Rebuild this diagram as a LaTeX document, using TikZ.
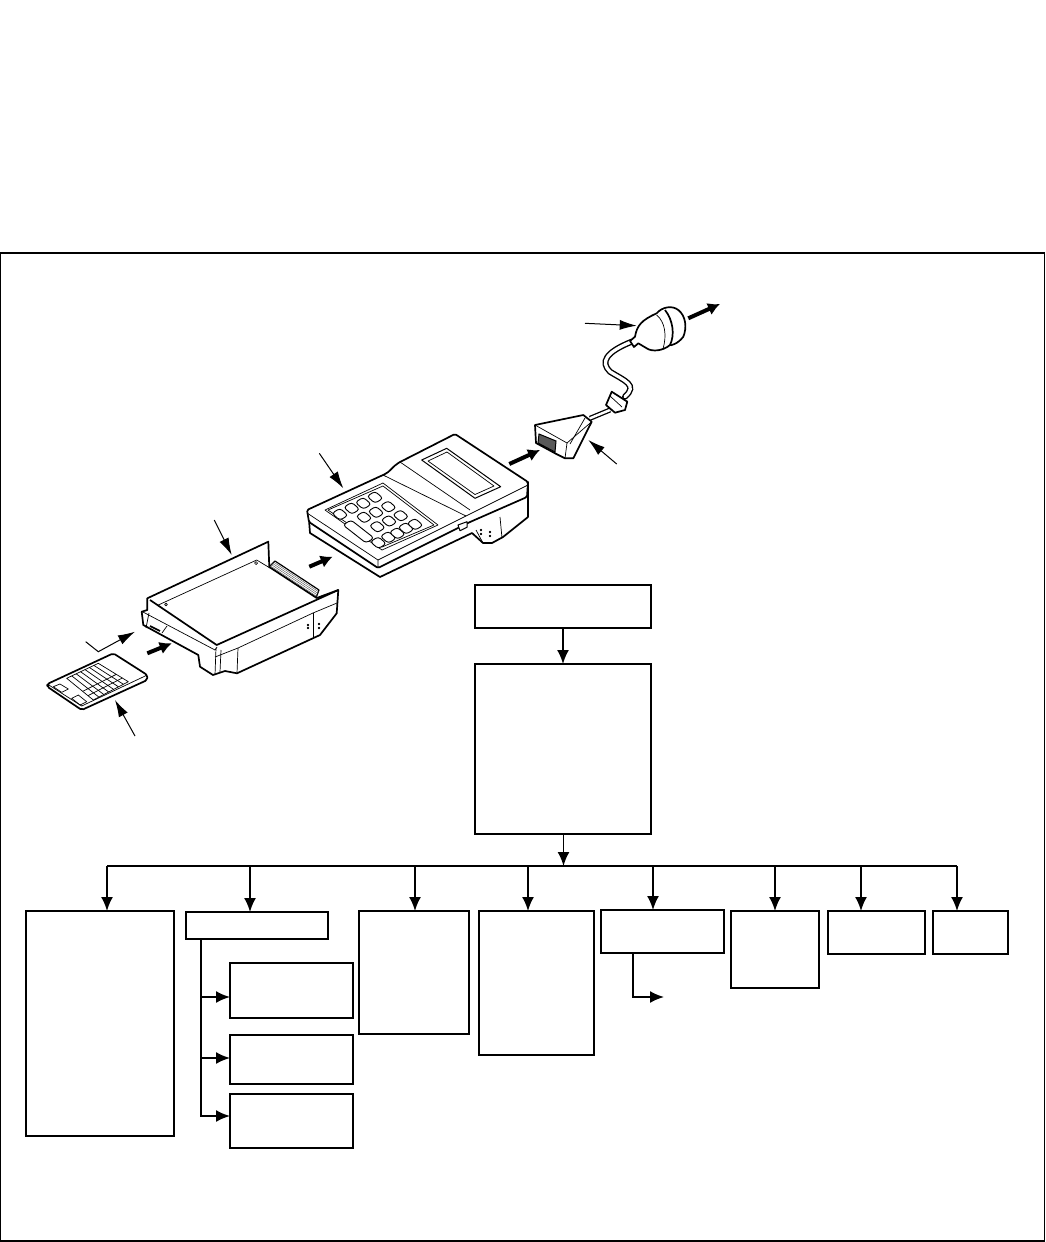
\documentclass[tikz,border=0pt]{standalone}
\usepackage{tikz}
\usetikzlibrary{positioning,calc,arrows.meta}
\begin{document}
\begin{tikzpicture}[x=1pt,y=-1pt,
  flowbox/.style={rectangle,draw=black,line width=2pt,fill=white,inner sep=0pt,outer sep=0pt},
  flowline/.style={draw=black,line width=1.8pt},
  flowarrow/.style={draw=black,line width=1.8pt,-{Latex[length=14pt,width=12pt]}},
  leader/.style={draw=black,line width=1pt,-{Latex[length=17pt,width=10pt]}},
  pusharrow/.style={draw=black,line width=4pt,-{Latex[length=12pt,width=13pt]}},
  heavy/.style={draw=black,line width=1.7pt,line join=round,fill=white},
  heavyline/.style={draw=black,line width=1.7pt,line join=round},
  fine/.style={draw=black,line width=0.7pt,line join=round},
  keycap/.style={draw=black,line width=0.9pt,fill=white,rounded corners=3pt}
]
\useasboundingbox (0,0) rectangle (1046,1242);
\node[flowbox,line width=1.6pt,minimum width=1044pt,minimum height=988pt] (frame) at (522.5,747) {};
% card
\draw[heavy,rounded corners=2pt] (47.3,684) -- (113.3,653.3) -- (147.3,675) -- (147.3,680) -- (81.7,710) -- (47.3,686.7) -- cycle;
\draw[fine] (47.3,684) -- (81.7,706) -- (147.3,675);
\draw[fine] (66.7,678.3) -- (98.3,663.3) -- (128.3,681.7) -- (93.3,700) -- cycle;
\foreach \t in {0.14,0.28,0.42,0.56,0.7,0.84}
  \draw[fine] ($(98.3,663.3)!\t!(66.7,678.3)$) -- ($(128.3,681.7)!\t!(93.3,700)$);
\foreach \t in {0.6,0.8}
  \draw[fine] ($(66.7,678.3)!\t!(93.3,700)$) -- ($(98.3,663.3)!\t!(128.3,681.7)$);
\draw[fine] (53.3,686.7) -- (60,684) -- (68.3,689) -- (61.7,692.3) -- cycle;
\draw[fine] (71.7,698.3) -- (78.3,695) -- (86.7,701.7) -- (80,705) -- cycle;
% cartridge
\draw[heavy,line width=1.2pt] (269,567) -- (275,561) -- (319,590) -- (316,598) -- cycle;
\foreach \t in {0.2,0.4,0.6,0.8}
  \draw[draw=black!70,line width=0.4pt] ($(269,567)!\t!(275,561)$) -- ($(316,598)!\t!(319,590)$);
\draw[heavy] (147.3,598.3) -- (268.3,541.7) -- (269.3,567) -- (316.7,598) -- (338.3,590) -- (336.7,613.3) -- (320,635) -- (237,673.3) -- (225,671) -- (213,675) -- (200,666.7) -- (198.3,655) -- (143.3,625) -- (141.7,611.7) -- (147.3,610) -- cycle;
\draw[heavyline] (150,600) -- (216.7,645) -- (338.3,590);
\draw[fine] (143,612) -- (215,650) -- (217,647);
\draw[fine] (215,657) -- (238,648) -- (313,613) -- (337,603);
\draw[fine] (216,648) -- (215,675);
\draw[fine] (221,650) -- (220,672);
\draw[fine] (238,648) -- (237,673.3);
\draw[fine] (313,613) -- (313,637);
\draw[fine] (158.3,605) -- (256.7,560);
\draw[fine] (256.7,560) -- (270,568);
\draw[fine] (149,613) -- (146,628);
\draw[heavyline] (150,626) -- (160,631);
\draw[fine] (167,626) -- (162,633);
\draw[fine] (166,604.5) circle (1.3);
\draw[fine] (256,563) circle (1.5);
\draw[fine] (308,625) circle (0.8) (308,628) circle (0.8) (319,624) circle (0.8) (319,628) circle (0.8);
% keypad
\draw[heavy] (309,520) -- (310,533) -- (380,577) -- (472,533) -- (483,543) -- (492,543) -- (503,537) -- (528,517) -- (528,482) -- cycle;
\draw[heavy,rounded corners=1.5pt] (307,510) -- (383,475) .. controls (390,472) and (393,466) .. (400,462) -- (455,434) -- (528,482) -- (527,497) -- (470,522) -- (378,568) -- (309,522) -- cycle;
\draw[fine] (307,513) -- (378,560) -- (378,568);
\draw[fine] (378,560) -- (466,516) -- (528,485);
\draw[fine] (383,475) -- (466,516);
\draw[fine] (400,462) -- (470,510);
\draw[fine] (500,517) -- (502,538);
\draw[fine] (476,530) -- (483,543);
\draw[fine] (325,510) -- (383,483) -- (438,525) -- (382,550) -- cycle;
\draw[fine] (328,510) -- (383,486) -- (434,525) -- (382,547) -- cycle;
\foreach \kx/\ky in {340/514.3,351.7/508.3,363.3/503.3,375/497.3,364/517.3,376/512.3,388.3/506.7,377.3/526.7,389/521,400.7/515.7,378.3/542.7,388.3/537.3,397.3/533.3,406/528.3,415/524.3}
  \draw[keycap,shift={(\kx,\ky)}] (-8,-1) -- (0,-6) -- (8,1) -- (0,6) -- cycle;
\draw[keycap] (343,525) -- (351,520) -- (374,538) -- (366,543) -- cycle;
\draw[heavy,line width=1pt] (421.7,460) -- (446.7,448.3) -- (500.7,486.7) -- (475,498.3) -- cycle;
\draw[fine] (428,461) -- (447,452) -- (494,486) -- (475,494.5) -- cycle;
\draw[heavy,line width=1pt] (458,525) -- (467,521.7) -- (467,527.3) -- (460,530.7) -- cycle;
\draw[fine] (481,530) circle (0.8) (481,534) circle (0.8) (490,532) circle (0.8) (490,536) circle (0.8);
% cable and adapter
\draw[line width=6pt,black,line cap=round] (631.7,341.7) .. controls (606,352) and (600,362) .. (610,371.7) .. controls (625,381) and (638,385) .. (625,396.7);
\draw[line width=3.2pt,white,line cap=round] (631.7,341.7) .. controls (606,352) and (600,362) .. (610,371.7) .. controls (625,381) and (638,385) .. (625,396.7);
\draw[line width=5pt,black] (590,418.3) -- (610,410);
\draw[line width=2.4pt,white] (590,418.3) -- (610,410);
\draw[heavy] (611.7,391.7) -- (627.3,401.7) -- (625,410) -- (615,412.7) -- (606,405) -- cycle;
\draw[fine] (610,396) -- (622,407);
\draw[heavy] (630,341) -- (635,336.7) .. controls (637,325) and (642,320) .. (656.7,313.3) .. controls (662,307) and (672,305) .. (678.3,310) .. controls (686,316) and (687,328) .. (683.3,336.7) .. controls (678,344) and (670,346) .. (670,345) .. controls (663,351) and (652,352) .. (646.7,348.3) -- (638.3,343.3) -- (634,347) -- cycle;
\draw[fine] (656.7,315) .. controls (665,322) and (667,335) .. (663,349);
\draw[heavyline] (665,310) .. controls (673,320) and (675,335) .. (670,345);
\draw[heavy] (535,425) -- (583.3,415) -- (591.7,421.7) -- (573.3,458.3) -- (565,458.3) -- (555,453.3) -- (536,443) -- cycle;
\draw[fine] (535,425) -- (567,443) -- (591.7,421.7);
\draw[fine] (567,443) -- (565,458.3);
\draw[fine] (570,444) -- (585,418);
\draw[draw=black,fill=black!65,line width=1pt] (539,434) -- (556,441) -- (555,452) -- (538,443) -- cycle;
% arrows on the drawing
\coordinate (pluglead) at (585,323.3); \coordinate (plugtip) at (636.7,325.7);
\coordinate (adaptlead) at (616.7,464); \coordinate (adapttip) at (588.3,440);
\coordinate (padlead) at (319.3,453.3); \coordinate (padtip) at (343.3,488.3);
\coordinate (cartlead) at (214.3,520); \coordinate (carttip) at (231.7,555);
\coordinate (cardlead) at (135,736); \coordinate (cardtip) at (115,700);
\coordinate (slotlead) at (85.7,641.7); \coordinate (slotbend) at (98.3,651.7); \coordinate (slottip) at (135,631.7);
\draw[leader] (pluglead) -- (plugtip);
\draw[leader] (adaptlead) -- (adapttip);
\draw[leader] (padlead) -- (padtip);
\draw[leader] (cartlead) -- (carttip);
\draw[leader] (cardlead) -- (cardtip);
\draw[leader] (slotlead) -- (slotbend) -- (slottip);
\coordinate (pusha) at (147.3,653.3); \coordinate (pushb) at (171.7,643.3);
\coordinate (pushc) at (309.3,566.7); \coordinate (pushd) at (332.7,556.7);
\coordinate (pushe) at (509.3,464); \coordinate (pushf) at (540,450);
\coordinate (pushg) at (688.3,318.3); \coordinate (pushh) at (720,304);
\draw[pusharrow] (pusha) -- (pushb);
\draw[pusharrow] (pushc) -- (pushd);
\draw[pusharrow] (pushe) -- (pushf);
\draw[pusharrow] (pushg) -- (pushh);
% chart
\node[flowbox,minimum width=176pt,minimum height=43pt] (top) at (563,606.5) {};
\node[flowbox,minimum width=176pt,minimum height=170pt] (main) at (563,749) {};
\node[flowbox,minimum width=148pt,minimum height=225pt] (boxa) at (100,1023.5) {};
\node[flowbox,minimum width=142pt,minimum height=27pt] (boxb) at (257,925.5) {};
\node[flowbox,minimum width=110pt,minimum height=123pt] (boxc) at (414,972.5) {};
\node[flowbox,minimum width=115pt,minimum height=144pt] (boxd) at (536.5,983) {};
\node[flowbox,minimum width=123pt,minimum height=43pt] (boxe) at (662.5,931.5) {};
\node[flowbox,minimum width=88pt,minimum height=77pt] (boxf) at (775,949.5) {};
\node[flowbox,minimum width=97pt,minimum height=43pt] (boxg) at (876.5,932.5) {};
\node[flowbox,minimum width=75pt,minimum height=43pt] (boxh) at (970.5,932.5) {};
\node[flowbox,minimum width=123pt,minimum height=55pt] (subx) at (291.5,990.5) {};
\node[flowbox,minimum width=123pt,minimum height=49pt] (suby) at (291.5,1059.5) {};
\node[flowbox,minimum width=123pt,minimum height=54pt] (subz) at (291.5,1121) {};
\draw[flowarrow] (top) -- (main);
\coordinate (bus) at (563.5,866);
\coordinate (busa) at (107,866);
\coordinate (busb) at (250,866);
\coordinate (busc) at (415,866);
\coordinate (busd) at (528,866);
\coordinate (buse) at (653,866);
\coordinate (busf) at (775,866);
\coordinate (busg) at (861,866);
\coordinate (bush) at (957,866);
\draw[flowarrow] (main.south -| bus) -- (bus);
\draw[flowline] (busa) -- (bush);
\draw[flowarrow] (busa) -- (busa |- boxa.north);
\draw[flowarrow] (busb) -- (busb |- boxb.north);
\draw[flowarrow] (busc) -- (busc |- boxc.north);
\draw[flowarrow] (busd) -- (busd |- boxd.north);
\draw[flowarrow] (buse) -- (buse |- boxe.north);
\draw[flowarrow] (busf) -- (busf |- boxf.north);
\draw[flowarrow] (busg) -- (busg |- boxg.north);
\draw[flowarrow] (bush) -- (bush |- boxh.north);
\coordinate (trunk) at (201,939);
\draw[flowarrow] (trunk) |- (subx.west |- 0,997);
\draw[flowarrow] (trunk) |- (suby.west |- 0,1058);
\draw[flowarrow] (trunk) |- (subz.west |- 0,1116);
\coordinate (stub) at (633,953); \coordinate (stubend) at (664,997);
\draw[flowarrow] (stub) |- (stubend);
\end{tikzpicture}
\end{document}
